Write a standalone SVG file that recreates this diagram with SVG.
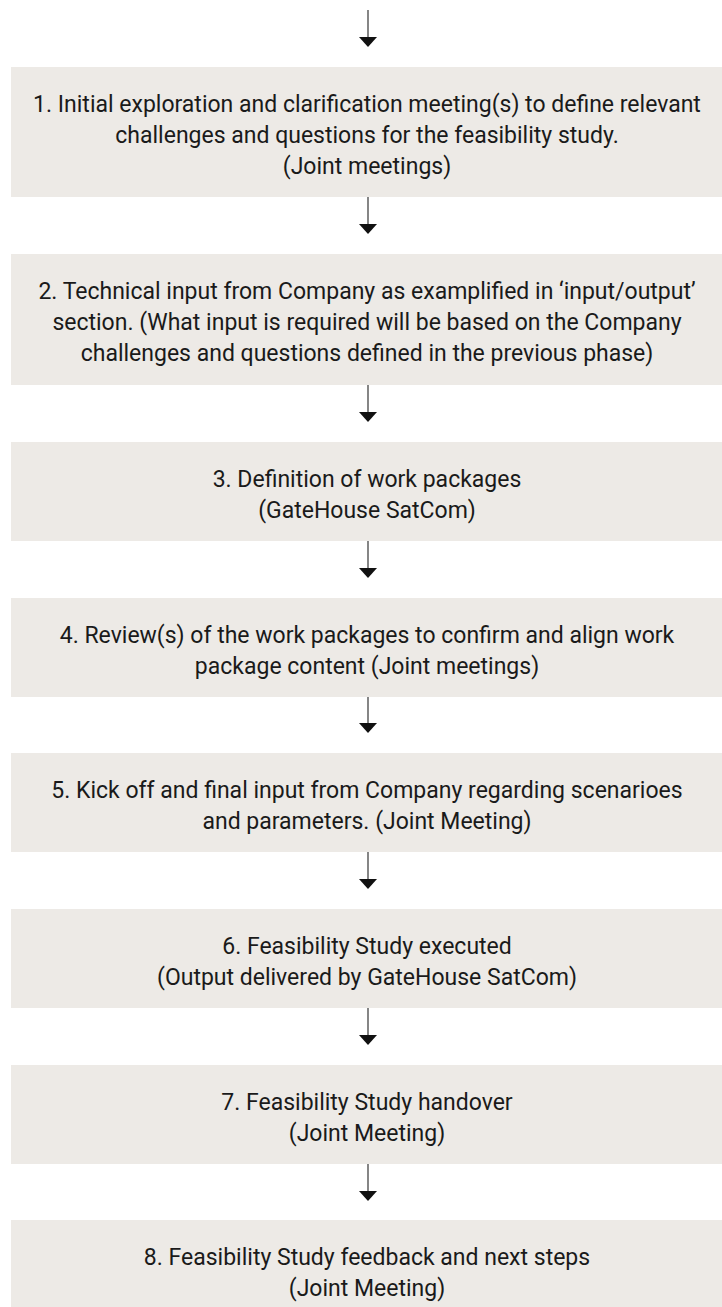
<svg xmlns="http://www.w3.org/2000/svg" width="722" height="1307" viewBox="0 0 722 1307">
  <defs>
    <style>
      .box { fill: #edeae6; }
      .lbl { font-family: Roboto, "Liberation Sans", sans-serif; font-size: 23px; fill: #1a1a1a; text-anchor: middle; }
      .edge { stroke: #444; stroke-width: 1.3; fill: none; }
      .head { fill: #111; }
    </style>
  </defs>

  <!-- connectors: vertical arrows between the steps -->
  <g id="connectors">
    <line class="edge" x1="368" y1="10" x2="368" y2="40"/>
    <polygon class="head" points="359,37 377,37 368,47"/>
    <line class="edge" x1="368" y1="197" x2="368" y2="228"/>
    <polygon class="head" points="359,224 377,224 368,234"/>
    <line class="edge" x1="368" y1="385" x2="368" y2="416"/>
    <polygon class="head" points="359,412 377,412 368,422"/>
    <line class="edge" x1="368" y1="541" x2="368" y2="572"/>
    <polygon class="head" points="359,568 377,568 368,578"/>
    <line class="edge" x1="368" y1="697" x2="368" y2="727"/>
    <polygon class="head" points="359,723 377,723 368,733"/>
    <line class="edge" x1="368" y1="852" x2="368" y2="883"/>
    <polygon class="head" points="359,879 377,879 368,889"/>
    <line class="edge" x1="368" y1="1008" x2="368" y2="1039"/>
    <polygon class="head" points="359,1035 377,1035 368,1045"/>
    <line class="edge" x1="368" y1="1164" x2="368" y2="1194"/>
    <polygon class="head" points="359,1191 377,1191 368,1201"/>
  </g>

  <g id="step1">
    <rect class="box" x="11" y="67" width="712" height="130"/>
    <text class="lbl" x="367" y="112">1. Initial exploration and clarification meeting(s) to define relevant</text>
    <text class="lbl" x="367" y="143">challenges and questions for the feasibility study.</text>
    <text class="lbl" x="367" y="174">(Joint meetings)</text>
  </g>

  <g id="step2">
    <rect class="box" x="11" y="254" width="712" height="131"/>
    <text class="lbl" x="367" y="299">2. Technical input from Company as examplified in ‘input/output’</text>
    <text class="lbl" x="367" y="330">section. (What input is required will be based on the Company</text>
    <text class="lbl" x="367" y="361">challenges and questions defined in the previous phase)</text>
  </g>

  <g id="step3">
    <rect class="box" x="11" y="442" width="712" height="99"/>
    <text class="lbl" x="367" y="487">3. Definition of work packages</text>
    <text class="lbl" x="367" y="518">(GateHouse SatCom)</text>
  </g>

  <g id="step4">
    <rect class="box" x="11" y="598" width="712" height="99"/>
    <text class="lbl" x="367" y="643">4. Review(s) of the work packages to confirm and align work</text>
    <text class="lbl" x="367" y="674">package content (Joint meetings)</text>
  </g>

  <g id="step5">
    <rect class="box" x="11" y="753" width="712" height="99"/>
    <text class="lbl" x="367" y="798">5. Kick off and final input from Company regarding scenarioes</text>
    <text class="lbl" x="367" y="829">and parameters. (Joint Meeting)</text>
  </g>

  <g id="step6">
    <rect class="box" x="11" y="909" width="712" height="99"/>
    <text class="lbl" x="367" y="954">6. Feasibility Study executed</text>
    <text class="lbl" x="367" y="985">(Output delivered by GateHouse SatCom)</text>
  </g>

  <g id="step7">
    <rect class="box" x="11" y="1065" width="712" height="99"/>
    <text class="lbl" x="367" y="1110">7. Feasibility Study handover</text>
    <text class="lbl" x="367" y="1141">(Joint Meeting)</text>
  </g>

  <g id="step8">
    <rect class="box" x="11" y="1220" width="712" height="100"/>
    <text class="lbl" x="367" y="1265">8. Feasibility Study feedback and next steps</text>
    <text class="lbl" x="367" y="1296">(Joint Meeting)</text>
  </g>
</svg>
